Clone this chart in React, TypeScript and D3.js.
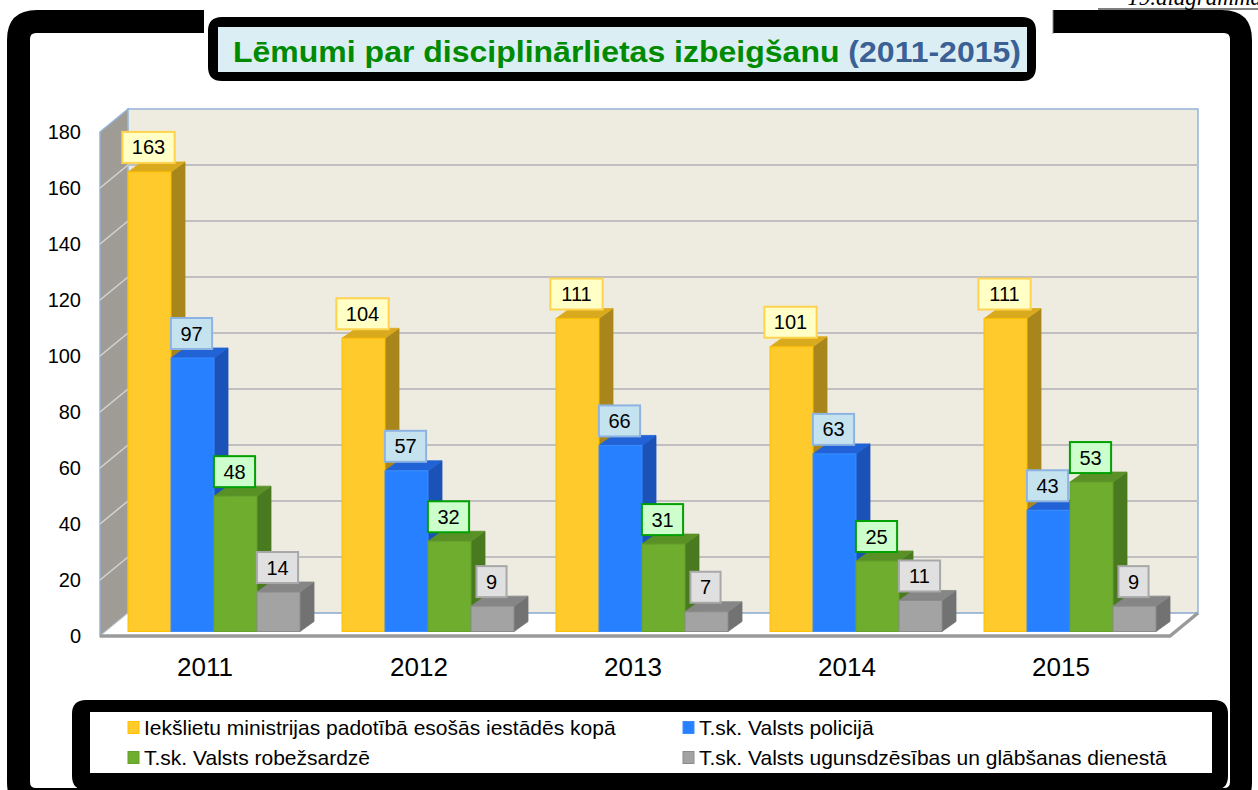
import React from 'react';
import * as d3 from 'd3';

const years = ['2011', '2012', '2013', '2014', '2015'];
const seriesNames = [
  'Iekšlietu ministrijas padotībā esošās iestādēs kopā',
  'T.sk. Valsts policijā',
  'T.sk. Valsts robežsardzē',
  'T.sk. Valsts ugunsdzēsības un glābšanas dienestā',
];
const ministryTotal = [163, 104, 111, 101, 111];
const statePolice = [97, 57, 66, 63, 43];
const borderGuard = [48, 32, 31, 25, 53];
const fireRescue = [14, 9, 7, 11, 9];
const yTicks = [0, 20, 40, 60, 80, 100, 120, 140, 160, 180];

// colours per series: front, side, top, edge, label fill, label border
const styles = [
  { front: '#FFCA2C', side: '#A8861C', top: '#D9AA1E', edge: '#FFC000', lf: '#FFFFC6', ls: '#FFD24F' },
  { front: '#2680FF', side: '#1B52B8', top: '#2163D6', edge: '#3C8CFF', lf: '#C5E3EF', ls: '#8DB3E2' },
  { front: '#6EAD2E', side: '#4A7A1F', top: '#5A9127', edge: '#64A02A', lf: '#CCFFCC', ls: '#00A000' },
  { front: '#A3A3A3', side: '#727272', top: '#868686', edge: '#8C8C8C', lf: '#E0E0E0', ls: '#A8A8A8' },
];

const allSeries = [ministryTotal, statePolice, borderGuard, fireRescue];

const font = 'Arial, "Liberation Sans", sans-serif';

// wall depth
const ddx = 28;
const ddy = -23;
// bar depth
const bdx = 14;
const bdy = -10;
const barW = 43;

function App() {
  const xBand = d3.scaleBand<string>().domain(years).range([98, 1168]);
  const yFront = d3.scaleLinear().domain([0, 180]).range([636, 132]);
  const yBar = d3.scaleLinear().domain([0, 180]).range([631.5, 124]);

  const left = 100;
  const right = 1170;
  const y0 = yFront(0);
  const yTop = yFront(180);

  const framePath = (x0: number, y0_: number, x1: number, y1: number, r: number,
                     ix0: number, iy0: number, ix1: number, iy1: number, ir: number) => {
    const rr = (a: number, b: number, c: number, d: number, r: number) =>
      `M${a + r},${b}H${c - r}Q${c},${b} ${c},${b + r}V${d - r}Q${c},${d} ${c - r},${d}H${a + r}Q${a},${d} ${a},${d - r}V${b + r}Q${a},${b} ${a + r},${b}Z`;
    return rr(x0, y0_, x1, y1, r) + rr(ix0, iy0, ix1, iy1, ir);
  };

  const bars: any[] = [];
  const labels: any[] = [];
  years.forEach((yr, gi) => {
    allSeries.forEach((s, si) => {
      const v = s[gi];
      const st = styles[si];
      const x = (xBand(yr) as number) + 30 + si * barW;
      const yt = yBar(v);
      const yb = yBar(0);
      const w = barW;
      bars.push(
        <g key={`b${gi}-${si}`}>
          <polygon points={`${x + w},${yt} ${x + w + bdx},${yt + bdy} ${x + w + bdx},${yb + bdy} ${x + w},${yb}`}
            fill={st.side} stroke={st.side} strokeWidth={0.8} />
          <polygon points={`${x},${yt} ${x + bdx},${yt + bdy} ${x + w + bdx},${yt + bdy} ${x + w},${yt}`}
            fill={st.top} stroke={st.top} strokeWidth={0.8} />
          <rect x={x} y={yt} width={w} height={yb - yt} fill={st.front} stroke={st.edge} strokeWidth={1} />
        </g>
      );
      const txt = String(v);
      const lw = txt.length * 11.1 + 19;
      const cx = x + w / 2 - 1;
      const bottom = yt - 9;
      labels.push(
        <g key={`l${gi}-${si}`}>
          <rect x={cx - lw / 2} y={bottom - 31} width={lw} height={31} fill={st.lf} stroke={st.ls} strokeWidth={2} />
          <text x={cx} y={bottom - 8.5} textAnchor="middle" fontSize={20} fontFamily={font} fill="#000">{txt}</text>
        </g>
      );
    });
  });

  return (
    <svg width={1258} height={790} style={{ position: 'absolute', left: 0, top: 0, background: '#fff' }}>
      {/* page number */}
      <text x={1262} y={5} textAnchor="end" fontSize={23} fontStyle="italic"
        fontFamily='"Liberation Serif", "Times New Roman", serif' fill="#000">19.diagramma</text>
      <line x1={1098} x2={1258} y1={9} y2={9} stroke="#000" strokeWidth={1} />

      {/* outer frame */}
      <path d={framePath(7, 10, 1252, 812, 30, 30, 33, 1230, 788, 6)} fill="#000" fillRule="evenodd" />

      {/* title */}
      <rect x={204} y={8} width={849} height={26} fill="#fff" />
      <line x1={1053} x2={1053} y1={10} y2={34} stroke="#888" strokeWidth={1} />
      <path d={framePath(208, 17, 1036, 81, 14, 218, 27, 1027, 72, 2)} fill="#000" fillRule="evenodd" />
      <rect x={218} y={27} width={809} height={45} fill="#DAEEF3" />
      <text x={627} y={62} textAnchor="middle" fontSize={30} fontWeight="bold" fontFamily={font}
        textLength={788} lengthAdjust="spacingAndGlyphs">
        <tspan fill="#008A00">Lēmumi par disciplinārlietas izbeigšanu </tspan>
        <tspan fill="#3A6096">(2011-2015)</tspan>
      </text>

      {/* walls */}
      <polygon points={`${left},${yTop} ${left + ddx},${yTop + ddy} ${left + ddx},${y0 + ddy} ${left},${y0}`}
        fill="#9E9C94" stroke="#95B3D7" strokeWidth={1.5} />
      <rect x={left + ddx} y={yTop + ddy} width={right - left} height={y0 - yTop}
        fill="#EEECE1" stroke="#95B3D7" strokeWidth={1.5} />
      {yTicks.filter(t => t > 0 && t < 180).map(t => (
        <g key={`g${t}`}>
          <line x1={left + ddx} x2={right + ddx} y1={yFront(t) + ddy} y2={yFront(t) + ddy}
            stroke="#C0C0C0" strokeWidth={2} />
          <line x1={left} x2={left + ddx} y1={yFront(t)} y2={yFront(t) + ddy}
            stroke="#D4D4D4" strokeWidth={1.5} />
        </g>
      ))}

      {/* floor */}
      <polygon points={`${left},${y0} ${right},${y0} ${right + ddx},${y0 + ddy} ${left + ddx},${y0 + ddy}`}
        fill="#fff" stroke="#C8C8C8" strokeWidth={1} />
      <line x1={left + ddx} x2={right + ddx} y1={y0 + ddy} y2={y0 + ddy} stroke="#95B3D7" strokeWidth={1.5} />
      <polyline points={`${left},${y0} ${right},${y0} ${right + ddx},${y0 + ddy}`}
        fill="none" stroke="#9A9A9A" strokeWidth={3.5} />

      {bars}
      {labels}

      {/* y axis labels */}
      {yTicks.map(t => (
        <text key={`y${t}`} x={81} y={yFront(t)} dy="0.35em" textAnchor="end" fontSize={20}
          fontFamily={font} fill="#000">{t}</text>
      ))}

      {/* x axis labels */}
      {years.map(yr => (
        <text key={`x${yr}`} x={(xBand(yr) as number) + xBand.bandwidth() / 2} y={676}
          textAnchor="middle" fontSize={26} fontFamily={font} fill="#000">{yr}</text>
      ))}

      {/* legend */}
      <path d={framePath(72, 700, 1228, 790, 14, 90, 712, 1212, 773, 2)} fill="#000" fillRule="evenodd" />
      <rect x={90} y={712} width={1122} height={61} fill="#fff" />
      {seriesNames.map((name, i) => {
        const col = i % 2;
        const row = Math.floor(i / 2);
        const mx = col === 0 ? 128 : 683;
        const my = row === 0 ? 727.5 : 757.5;
        return (
          <g key={`lg${i}`}>
            <rect x={mx} y={my - 6} width={11} height={12} fill={styles[i].front} stroke={styles[i].edge} strokeWidth={1} />
            <text x={mx + 16} y={my} dy="0.35em" fontSize={21} fontFamily={font} fill="#000">{name}</text>
          </g>
        );
      })}
    </svg>
  );
}

export default App;
